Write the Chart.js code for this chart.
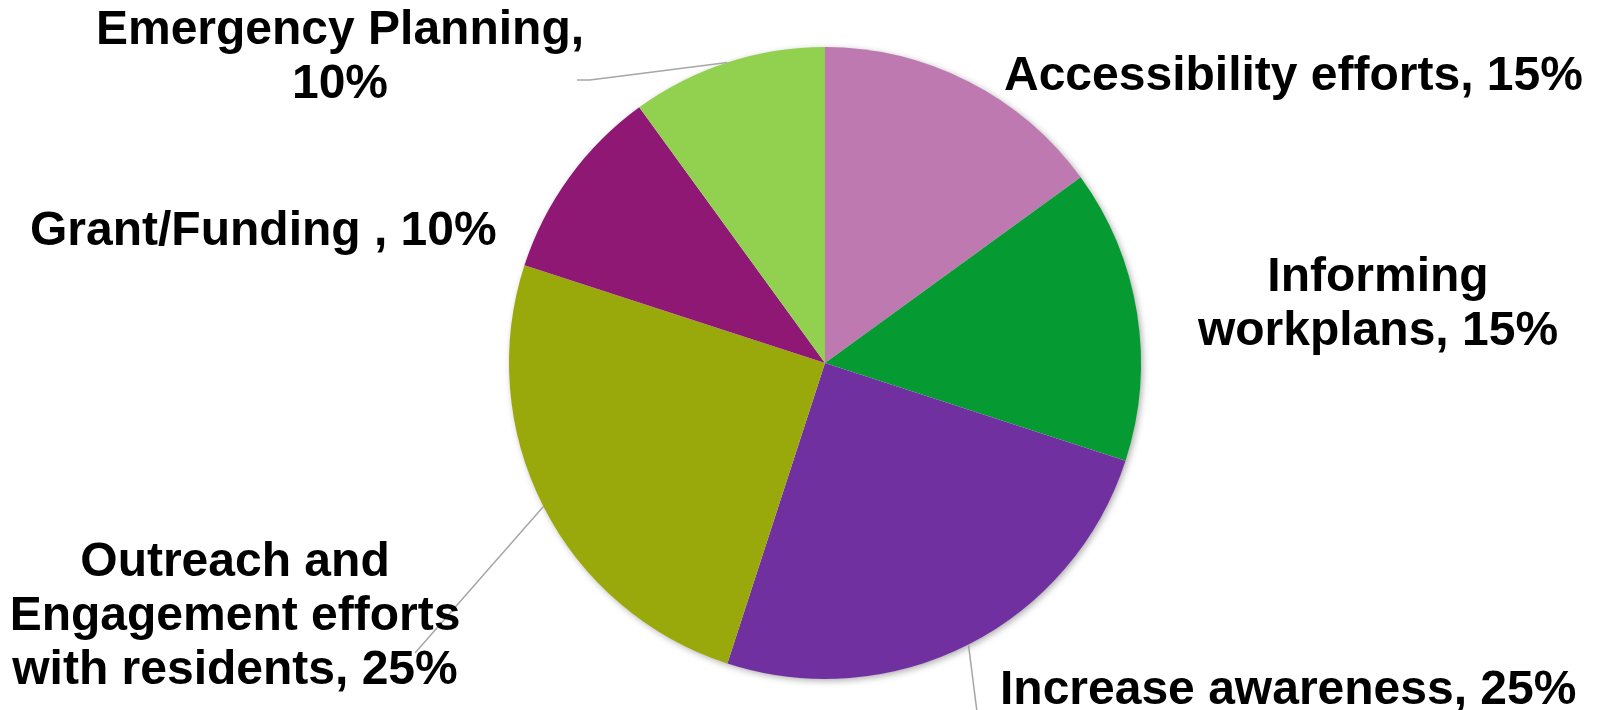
<!DOCTYPE html>
<html>
<head>
<meta charset="utf-8">
<script src="https://cdn.jsdelivr.net/npm/chart.js@4.4.1/dist/chart.umd.min.js"></script>
<style>
  html, body { margin: 0; padding: 0; background: #fff; }
  #wrap { width: 1602px; height: 710px; }
</style>
</head>
<body>
<div id="wrap"><canvas id="pie" width="1602" height="710"></canvas></div>
<script>
const categories = ['Accessibility efforts', 'Informing workplans', 'Increase awareness',
  'Outreach and Engagement efforts with residents', 'Grant/Funding ', 'Emergency Planning'];
const shares = [15, 15, 25, 25, 10, 10];
const sliceColors = ['#BE79B1', '#069A33', '#7030A0', '#99A80B', '#8E1874', '#92D050'];

// where each data label sits (x, first baseline, alignment, wrap width, leader start)
const labelSpots = [
  { x: 1004, y: 90, align: 'left', wrap: 900 },
  { x: 1378, y: 291, align: 'center', wrap: 400 },
  { x: 1000, y: 704, align: 'left', wrap: 900, leader: [977, 712] },
  { x: 235, y: 576, align: 'center', wrap: 460, leader: [415, 653] },
  { x: 30, y: 245, align: 'left', wrap: 900 },
  { x: 340, y: 44, align: 'center', wrap: 500, leader: [577, 80], elbow: 590 }
];

const FONT = 'bold 48px "Liberation Sans", Arial, sans-serif';
const LINE_H = 54;

function wrapText(ctx, text, maxWidth) {
  const words = text.split(' ');
  const lines = [];
  let cur = '';
  words.forEach(w => {
    const test = cur ? cur + ' ' + w : w;
    if (cur && ctx.measureText(test).width > maxWidth) {
      lines.push(cur);
      cur = w;
    } else {
      cur = test;
    }
  });
  if (cur) lines.push(cur);
  return lines;
}

const pieShadow = {
  id: 'pieShadow',
  beforeDatasetsDraw(chart) {
    const arc = chart.getDatasetMeta(0).data[0];
    if (!arc) return;
    const ctx = chart.ctx;
    ctx.save();
    ctx.shadowColor = 'rgba(0,0,0,0.35)';
    ctx.shadowBlur = 7;
    ctx.shadowOffsetX = 2;
    ctx.shadowOffsetY = 2;
    ctx.fillStyle = '#ffffff';
    ctx.beginPath();
    ctx.arc(arc.x, arc.y, arc.outerRadius - 0.5, 0, Math.PI * 2);
    ctx.fill();
    ctx.restore();
  }
};

const pieLabels = {
  id: 'pieLabels',
  afterDatasetsDraw(chart) {
    const ctx = chart.ctx;
    const meta = chart.getDatasetMeta(0);
    ctx.save();
    ctx.font = FONT;
    ctx.fillStyle = '#000000';
    ctx.textBaseline = 'alphabetic';
    meta.data.forEach((arc, i) => {
      const spot = labelSpots[i];
      const mid = (arc.startAngle + arc.endAngle) / 2;
      const ex = arc.x + Math.cos(mid) * arc.outerRadius;
      const ey = arc.y + Math.sin(mid) * arc.outerRadius;

      if (spot.leader) {
        ctx.save();
        ctx.strokeStyle = '#A6A6A6';
        ctx.lineWidth = 1.5;
        ctx.beginPath();
        ctx.moveTo(spot.leader[0], spot.leader[1]);
        if (spot.elbow) ctx.lineTo(spot.elbow, spot.leader[1]);
        ctx.lineTo(ex, ey);
        ctx.stroke();
        ctx.restore();
      }

      const text = categories[i] + ', ' + shares[i] + '%';
      const lines = wrapText(ctx, text, spot.wrap);
      ctx.textAlign = spot.align;
      lines.forEach((line, k) => {
        ctx.fillText(line, spot.x, spot.y + k * LINE_H);
      });
    });
    ctx.restore();
  }
};

new Chart(document.getElementById('pie').getContext('2d'), {
  type: 'pie',
  data: {
    labels: categories,
    datasets: [{
      data: shares,
      backgroundColor: sliceColors,
      borderWidth: 0
    }]
  },
  options: {
    responsive: false,
    animation: false,
    devicePixelRatio: 1,
    layout: {
      padding: { left: 509, right: 461, top: 47, bottom: 31 }
    },
    plugins: {
      legend: { display: false },
      tooltip: { enabled: false }
    }
  },
  plugins: [pieShadow, pieLabels]
});
</script>
</body>
</html>
